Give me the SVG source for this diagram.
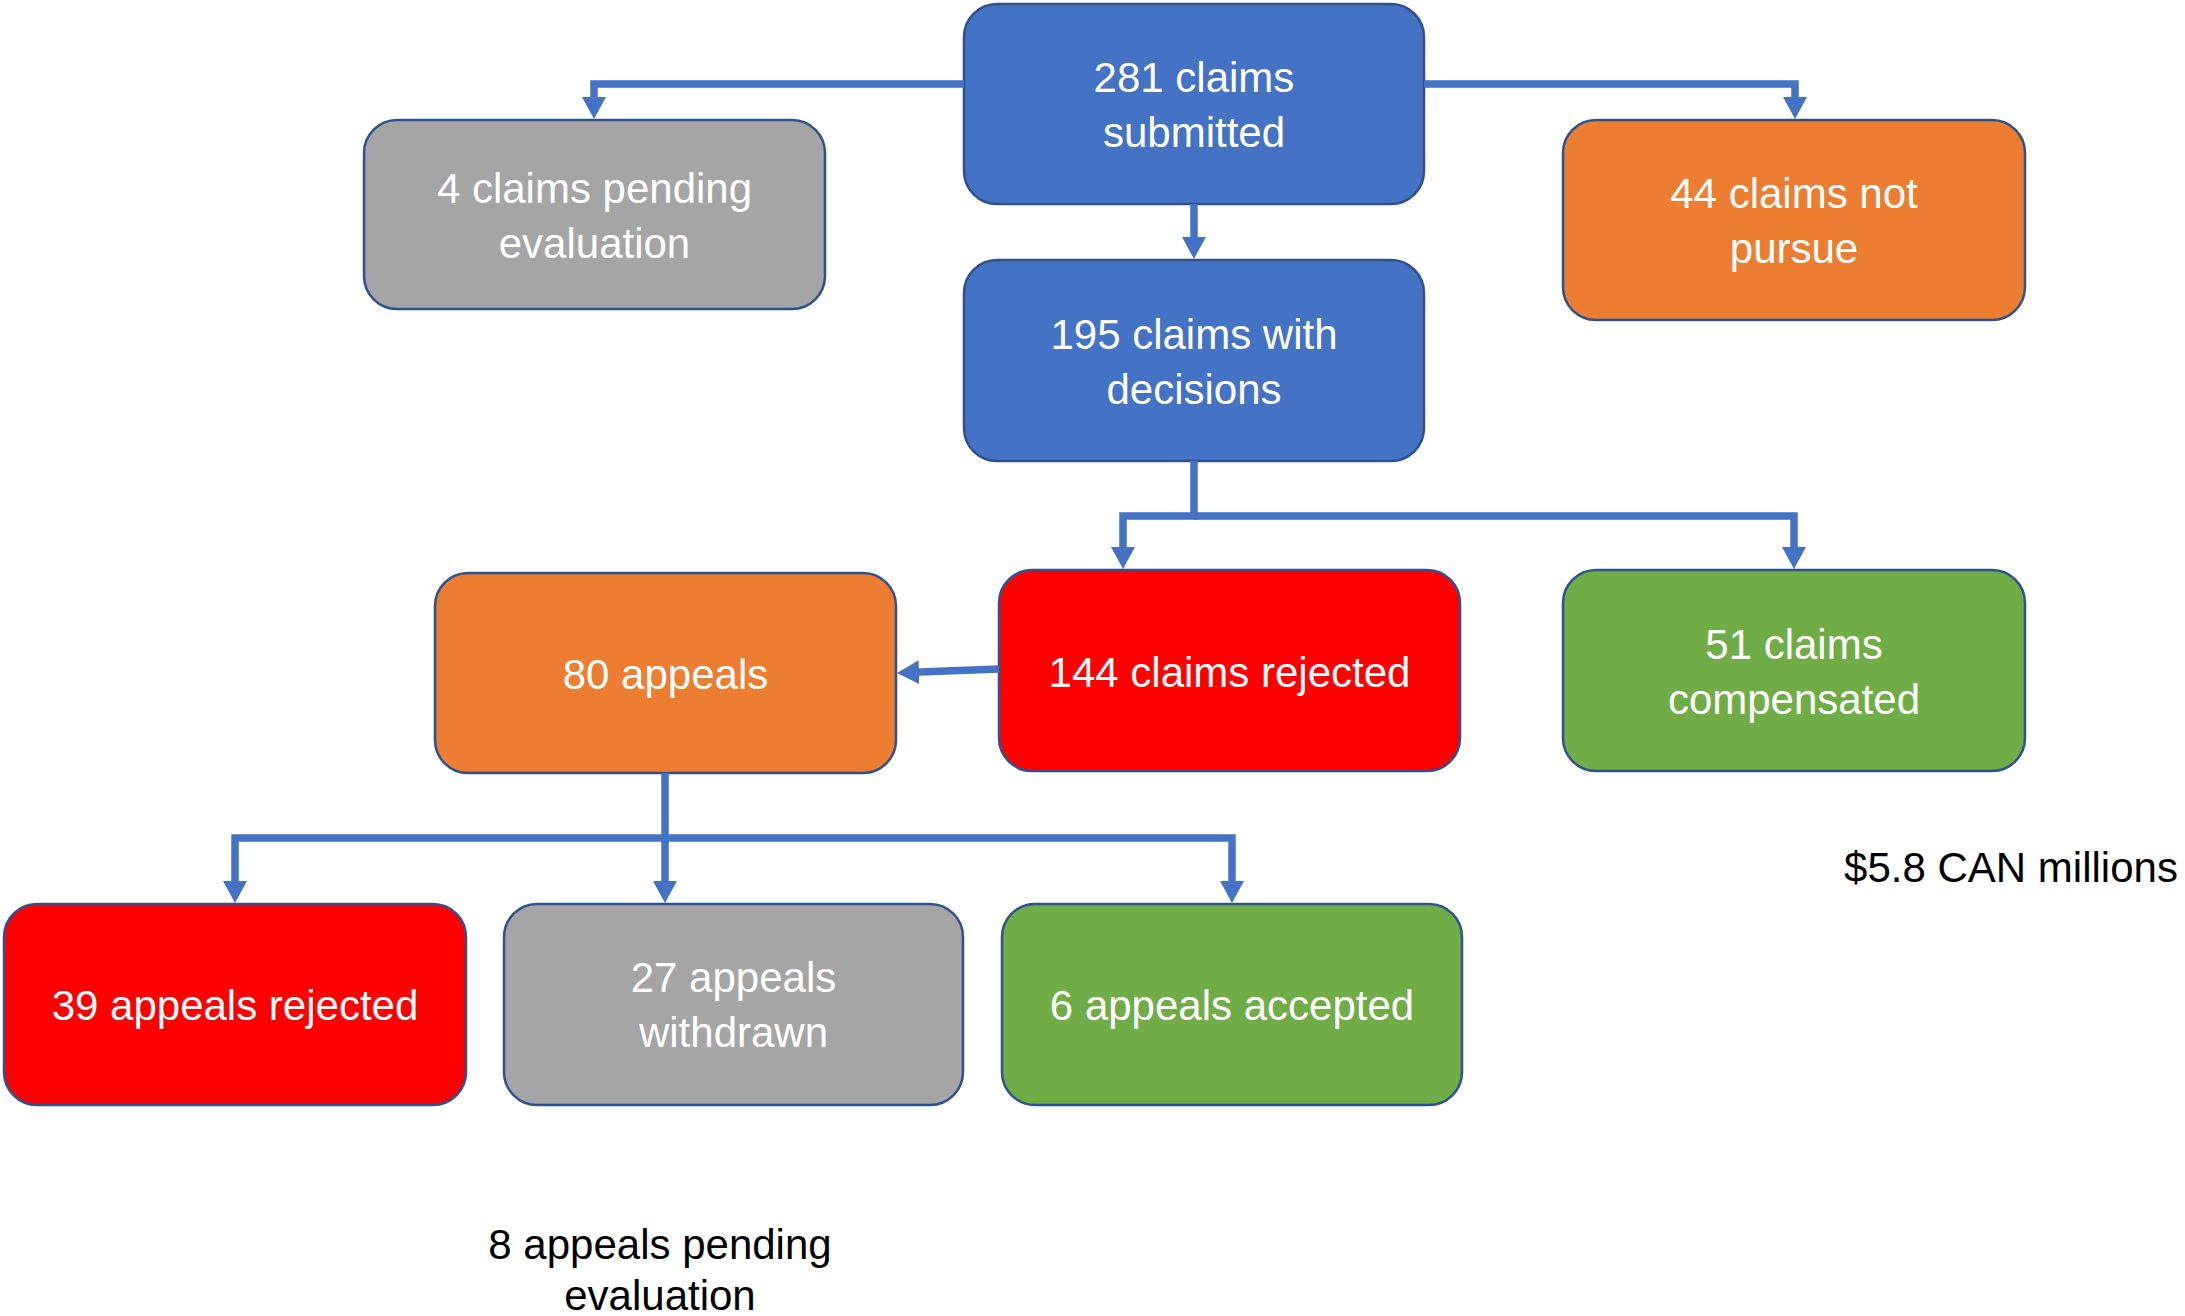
<svg xmlns="http://www.w3.org/2000/svg" width="2185" height="1316" viewBox="0 0 2185 1316">
  <defs>
    <style>
      .box { stroke: #2F528F; stroke-width: 2.5; }
      .blue { fill: #4472C4; }
      .gray { fill: #A5A5A5; }
      .orange { fill: #ED7D31; }
      .red { fill: #FF0000; }
      .green { fill: #70AD47; }
      .lbl { font-family: "Liberation Sans", Arial, sans-serif; font-size: 42px; fill: #FFFFFF; text-anchor: middle; }
      .note { font-family: "Liberation Sans", Arial, sans-serif; font-size: 42px; fill: #000000; text-anchor: middle; }
      .conn { fill: none; stroke: #4472C4; stroke-width: 7.5; stroke-linejoin: miter; marker-end: url(#arrow); }
    </style>
    <marker id="arrow" markerUnits="userSpaceOnUse" markerWidth="22" markerHeight="24" viewBox="0 0 22 24" refX="12" refY="12" orient="auto">
      <path d="M0,0 L22,12 L0,24 Z" fill="#4472C4"/>
    </marker>
  </defs>
  <rect width="2185" height="1316" fill="#FFFFFF"/>

  <g id="n-submitted">
    <rect class="box blue" x="964" y="4" width="460" height="200" rx="33"/>
    <text class="lbl" x="1194" y="92">281 claims</text>
    <text class="lbl" x="1194" y="147">submitted</text>
  </g>
  <g id="n-pending">
    <rect class="box gray" x="364" y="120" width="461" height="189" rx="33"/>
    <text class="lbl" x="594.5" y="202.5">4 claims pending</text>
    <text class="lbl" x="594.5" y="257.5">evaluation</text>
  </g>
  <g id="n-notpursue">
    <rect class="box orange" x="1563" y="120" width="462" height="200" rx="33"/>
    <text class="lbl" x="1794" y="208">44 claims not</text>
    <text class="lbl" x="1794" y="263">pursue</text>
  </g>
  <g id="n-decisions">
    <rect class="box blue" x="964" y="260" width="460" height="201" rx="33"/>
    <text class="lbl" x="1194" y="348.5">195 claims with</text>
    <text class="lbl" x="1194" y="403.5">decisions</text>
  </g>
  <g id="n-appeals">
    <rect class="box orange" x="435" y="573" width="461" height="200" rx="33"/>
    <text class="lbl" x="665.5" y="689">80 appeals</text>
  </g>
  <g id="n-rejected">
    <rect class="box red" x="999" y="570" width="461" height="201" rx="33"/>
    <text class="lbl" x="1229.5" y="686.5">144 claims rejected</text>
  </g>
  <g id="n-compensated">
    <rect class="box green" x="1563" y="570" width="462" height="201" rx="33"/>
    <text class="lbl" x="1794" y="658.5">51 claims</text>
    <text class="lbl" x="1794" y="713.5">compensated</text>
  </g>
  <g id="n-appeals-rejected">
    <rect class="box red" x="4" y="904" width="462" height="201" rx="33"/>
    <text class="lbl" x="235" y="1020">39 appeals rejected</text>
  </g>
  <g id="n-appeals-withdrawn">
    <rect class="box gray" x="504" y="904" width="459" height="201" rx="33"/>
    <text class="lbl" x="733.5" y="992">27 appeals</text>
    <text class="lbl" x="733.5" y="1047">withdrawn</text>
  </g>
  <g id="n-appeals-accepted">
    <rect class="box green" x="1002" y="904" width="460" height="201" rx="33"/>
    <text class="lbl" x="1232" y="1020">6 appeals accepted</text>
  </g>

  <g id="notes">
    <text class="note" x="2011" y="882">$5.8 CAN millions</text>
    <text class="note" x="660" y="1259">8 appeals pending</text>
    <text class="note" x="660" y="1310">evaluation</text>
  </g>

  <g id="connectors">
    <path class="conn" d="M964,84 H594 V109"/>
    <path class="conn" d="M1424,84 H1795 V109"/>
    <path class="conn" d="M1194,204 V249"/>
    <path class="conn" d="M1194,461 V516 H1123 V559"/>
    <path class="conn" d="M1194,516 H1794 V559"/>
    <path class="conn" d="M999,669 L907,672.6"/>
    <path class="conn" d="M665,773 V838 H235 V893"/>
    <path class="conn" d="M665,838 V893"/>
    <path class="conn" d="M665,838 H1232 V893"/>
  </g>
</svg>
